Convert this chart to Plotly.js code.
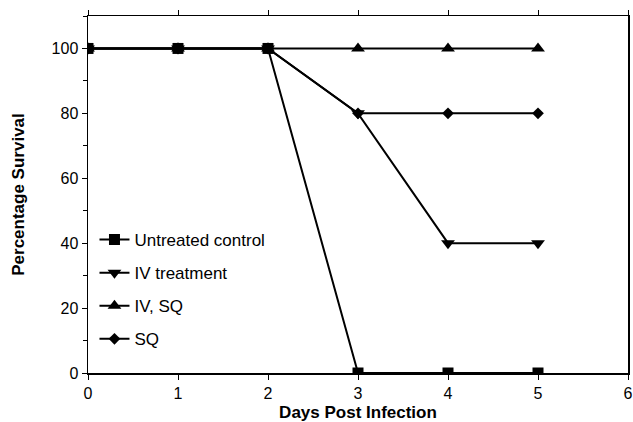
<!DOCTYPE html>
<html><head><meta charset="utf-8">
<script src="https://cdn.plot.ly/plotly-3.0.1.min.js"></script>
<style>html,body{margin:0;padding:0;background:#fff}</style>
</head><body><div id="chart" style="width:633px;height:422px"></div>
<script>
const days = [0, 1, 2, 3, 4, 5];
const untreated = [100, 100, 100, 0, 0, 0];
const ivTreatment = [100, 100, 100, 80, 40, 40];
const ivSq = [100, 100, 100, 100, 100, 100];
const sq = [100, 100, 100, 80, 80, 80];

const line = {color: '#000', width: 2};
const traces = [
  {x: days, y: ivSq, name: 'IV, SQ', legendgroup: 'c', mode: 'lines+markers', line: line, marker: {symbol: 'triangle-up', size: 12, color: '#000'}, legendrank: 3},
  {x: days, y: sq, name: 'SQ', legendgroup: 'd', mode: 'lines+markers', line: line, marker: {symbol: 'diamond', size: 9, color: '#000'}, legendrank: 4},
  {x: days, y: ivTreatment, name: 'IV treatment', legendgroup: 'b', mode: 'lines+markers', line: line, marker: {symbol: 'triangle-down', size: 12, color: '#000'}, legendrank: 2},
  {x: days, y: untreated, name: 'Untreated control', legendgroup: 'a', mode: 'lines+markers', line: line, marker: {symbol: 'square', size: 11, color: '#000'}, legendrank: 1}
];

const layout = {
  width: 633, height: 422,
  margin: {l: 88, r: 5, t: 16, b: 49},
  paper_bgcolor: '#fff', plot_bgcolor: '#fff',
  font: {family: 'Liberation Sans, Arial, sans-serif', color: '#000', size: 16},
  showlegend: true,
  legend: {x: 0.012, y: 0.423, xanchor: 'left', yanchor: 'top', bgcolor: 'rgba(0,0,0,0)',
           font: {size: 17}, traceorder: 'grouped', tracegroupgap: 8, itemwidth: 30},
  xaxis: {range: [0, 6], tickvals: [0,1,2,3,4,5,6], showgrid: false, zeroline: false,
          showline: true, linecolor: '#000', linewidth: 1.5, mirror: 'ticks',
          ticks: 'outside', ticklen: 5, tickcolor: '#000', tickfont: {size: 16},
          title: {text: '<b>Days Post Infection</b>', font: {size: 17}, standoff: 9}},
  yaxis: {range: [0, 110], tickvals: [0,20,40,60,80,100], showgrid: false, zeroline: false,
          showline: true, linecolor: '#000', linewidth: 1.5, mirror: true,
          ticks: 'outside', ticklen: 5, tickcolor: '#000', tickfont: {size: 16},
          minor: {dtick: 10, ticks: 'outside', ticklen: 4, tickcolor: '#000'},
          title: {text: '<b>Percentage Survival</b>', font: {size: 17}, standoff: 22}},
  yaxis2: {range: [0, 110], overlaying: 'y', side: 'right', showgrid: false, zeroline: false,
           showline: false, showticklabels: false, dtick: 10, ticks: 'inside', ticklen: 5, tickcolor: '#000'}
};
Plotly.newPlot('chart', traces, layout, {displayModeBar: false, staticPlot: true});
</script></body></html>
